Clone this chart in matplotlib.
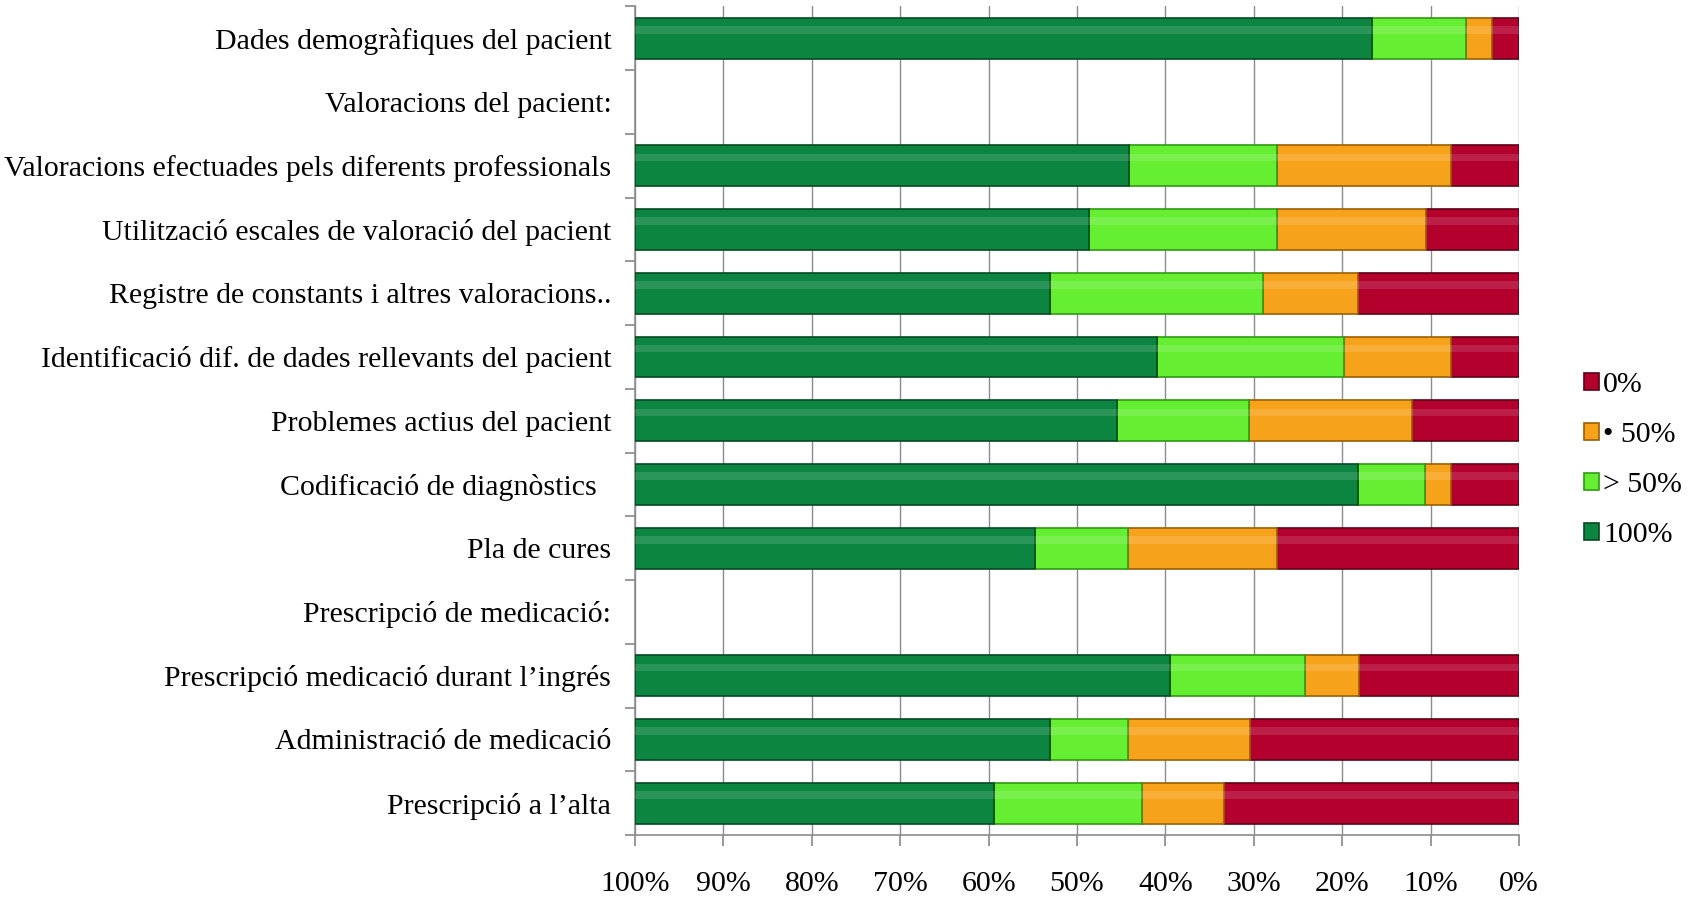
import numpy as np
import matplotlib.pyplot as plt
from matplotlib.ticker import FixedLocator

plt.rcParams['font.family'] = ['Liberation Serif', 'DejaVu Serif']

# categories, top to bottom
categories = [
    "Dades demogràfiques del pacient",
    "Valoracions del pacient:",
    "Valoracions efectuades pels diferents professionals",
    "Utilització escales de valoració del pacient",
    "Registre de constants i altres valoracions..",
    "Identificació dif. de dades rellevants del pacient",
    "Problemes actius del pacient",
    "Codificació de diagnòstics  ",
    "Pla de cures",
    "Prescripció de medicació:",
    "Prescripció medicació durant l\u2019ingrés",
    "Administració de medicació",
    "Prescripció a l\u2019alta",
]

# percentages per series (header rows have no bars)
pct_0 = [3.0, np.nan, 7.7, 10.5, 18.2, 7.7, 12.1, 7.7, 27.4, np.nan, 18.1, 30.4, 33.4]
pct_le50 = [3.0, np.nan, 19.7, 16.9, 10.7, 12.1, 18.4, 2.9, 16.8, np.nan, 6.1, 13.8, 9.2]
pct_gt50 = [10.6, np.nan, 16.7, 21.2, 24.2, 21.2, 15.0, 7.6, 10.5, np.nan, 15.3, 8.9, 16.8]
pct_100 = [83.4, np.nan, 55.9, 51.4, 46.9, 59.0, 54.5, 81.8, 45.3, np.nan, 60.5, 46.9, 40.6]

series_names = ["0%", "\u2022 50%", "> 50%", "100%"]
series_colors = ["#b3002d", "#f7a21b", "#66ee33", "#0c8540"]
edge_colors = ["#5e0016", "#9a5f05", "#2f9a12", "#064a22"]

xticks = [100, 90, 80, 70, 60, 50, 40, 30, 20, 10, 0]

fig = plt.figure(figsize=(16.96, 8.97), dpi=100, facecolor='white')
ax = fig.add_axes([0.3744, 0.069, 0.5212, 0.924])

y = np.arange(len(categories))
data = [np.array(pct_0), np.array(pct_le50), np.array(pct_gt50), np.array(pct_100)]
has_bar = ~np.isnan(data[0])
left = np.zeros(len(categories))
handles = []
for vals, name, col, ec in zip(data, series_names, series_colors, edge_colors):
    v = np.nan_to_num(vals)
    h = ax.barh(y[has_bar], v[has_bar], left=left[has_bar], height=0.64,
                color=col, edgecolor=ec, linewidth=1.2, label=name, zorder=3)
    # soft highlight band for the bevelled look
    ax.barh(y[has_bar] - 0.13, v[has_bar], left=left[has_bar], height=0.12,
            color='white', alpha=0.13, linewidth=0, zorder=4)
    handles.append(h)
    left = left + v

ax.set_xlim(100, 0)
ax.set_ylim(len(categories) - 0.5, -0.5)
ax.set_xticks(xticks)
ax.set_xticklabels([f"{t}%" for t in xticks], fontsize=21.5)
ax.set_yticks(y)
ax.set_yticklabels(categories, fontsize=21.5)
ax.tick_params(axis='y', length=0, pad=17)
ax.yaxis.set_minor_locator(FixedLocator(np.arange(-0.5, len(categories), 1.0)))
ax.tick_params(axis='y', which='minor', length=7, color='#888888', width=1.2)
ax.tick_params(axis='x', length=8, color='#888888', width=1.2, pad=18)

ax.xaxis.grid(True, color='#8c8c8c', linewidth=1.0, zorder=0)
ax.set_axisbelow(True)
for s in ['top', 'right']:
    ax.spines[s].set_visible(False)
for s in ['left', 'bottom']:
    ax.spines[s].set_color('#8c8c8c')
    ax.spines[s].set_linewidth(1.2)

leg = fig.legend(handles, series_names, loc='center left',
                 bbox_to_anchor=(0.925, 0.487), frameon=False, fontsize=21.5,
                 handlelength=0.5, handleheight=0.5, handletextpad=0.15,
                 labelspacing=0.8, borderpad=0)

fig.savefig("out.png", dpi=100, facecolor='white')
